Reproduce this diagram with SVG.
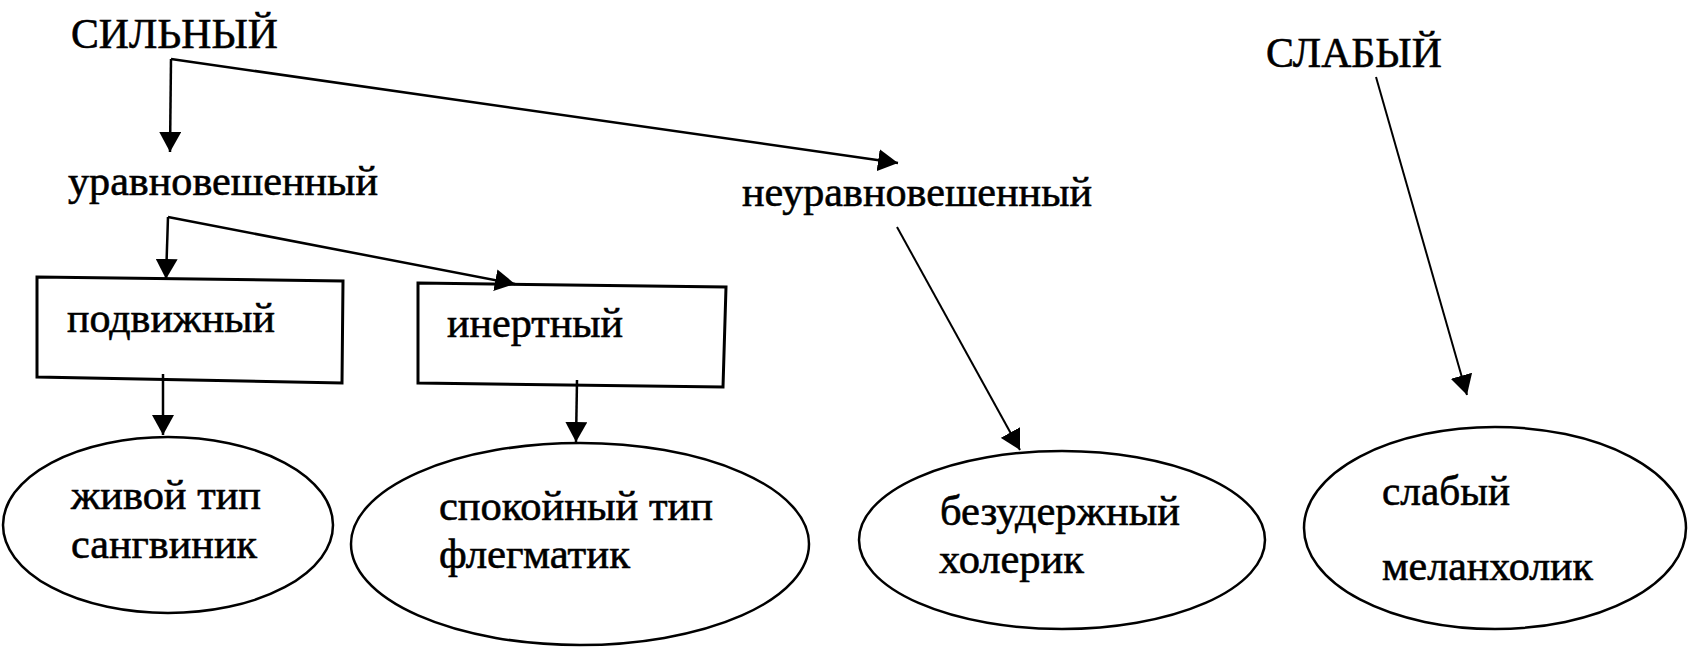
<svg xmlns="http://www.w3.org/2000/svg" width="1699" height="648" viewBox="0 0 1699 648">
<style>
  text { font-family: "Liberation Serif", "DejaVu Serif", "Noto Serif", "Times New Roman", serif; font-size: 43px; fill: #000; stroke: #000; stroke-width: 0.6; }
  .box { fill: none; stroke: #000; stroke-width: 3; }
  .ell { fill: none; stroke: #000; stroke-width: 2.5; }
  .con { fill: none; stroke: #000; stroke-width: 2.5; }
  .thin { stroke-width: 2; }
</style>
<defs>
  <marker id="arr" viewBox="0 0 20 22" markerWidth="20" markerHeight="22" refX="20" refY="11" orient="auto" markerUnits="userSpaceOnUse">
    <path d="M0,0 L20,11 L0,22 z" fill="#000"/>
  </marker>
</defs>
<rect width="1699" height="648" fill="#fff"/>

<g id="strong"><text x="71" y="48" font-family="Liberation Serif, DejaVu Serif, serif" textLength="207" lengthAdjust="spacingAndGlyphs">СИЛЬНЫЙ</text></g>
<g id="weak-top"><text x="1266" y="67" font-family="Liberation Serif, DejaVu Serif, serif" textLength="176" lengthAdjust="spacingAndGlyphs">СЛАБЫЙ</text></g>
<g id="balanced"><text x="68" y="195" font-family="Liberation Serif, DejaVu Serif, serif" textLength="310" lengthAdjust="spacingAndGlyphs">уравновешенный</text></g>
<g id="unbalanced"><text x="742" y="206" font-family="Liberation Serif, DejaVu Serif, serif" textLength="350" lengthAdjust="spacingAndGlyphs">неуравновешенный</text></g>

<g id="mobile">
  <polygon class="box" points="37,277 343,281 342,383 37,377"/>
  <text x="67" y="332" font-family="Liberation Serif, DejaVu Serif, serif" textLength="208" lengthAdjust="spacingAndGlyphs">подвижный</text>
</g>
<g id="inert">
  <polygon class="box" points="418,283 726,287 723,387 418,383"/>
  <text x="447" y="337" font-family="Liberation Serif, DejaVu Serif, serif" textLength="176" lengthAdjust="spacingAndGlyphs">инертный</text>
</g>

<g id="sanguine">
  <ellipse class="ell" cx="168" cy="525" rx="165" ry="88"/>
  <text x="71" y="509" font-family="Liberation Serif, DejaVu Serif, serif" textLength="190" lengthAdjust="spacingAndGlyphs">живой тип</text>
  <text x="71" y="558" font-family="Liberation Serif, DejaVu Serif, serif" textLength="186" lengthAdjust="spacingAndGlyphs">сангвиник</text>
</g>
<g id="phlegmatic">
  <ellipse class="ell" cx="580" cy="544" rx="229" ry="101"/>
  <text x="439" y="520" font-family="Liberation Serif, DejaVu Serif, serif" textLength="274" lengthAdjust="spacingAndGlyphs">спокойный тип</text>
  <text x="439" y="568" font-family="Liberation Serif, DejaVu Serif, serif" textLength="191" lengthAdjust="spacingAndGlyphs">флегматик</text>
</g>
<g id="choleric">
  <ellipse class="ell" cx="1062" cy="540" rx="203" ry="89"/>
  <text x="940" y="525" font-family="Liberation Serif, DejaVu Serif, serif" textLength="240" lengthAdjust="spacingAndGlyphs">безудержный</text>
  <text x="939" y="573" font-family="Liberation Serif, DejaVu Serif, serif" textLength="145" lengthAdjust="spacingAndGlyphs">холерик</text>
</g>
<g id="melancholic">
  <ellipse class="ell" cx="1495" cy="528" rx="191" ry="101"/>
  <text x="1382" y="505" font-family="Liberation Serif, DejaVu Serif, serif" textLength="128" lengthAdjust="spacingAndGlyphs">слабый</text>
  <text x="1382" y="580" font-family="Liberation Serif, DejaVu Serif, serif" textLength="211" lengthAdjust="spacingAndGlyphs">меланхолик</text>
</g>

<g id="connectors">
  <polyline class="con" points="171,59 170,152" marker-end="url(#arr)"/>
  <line class="con" x1="171" y1="59" x2="898" y2="163" marker-end="url(#arr)"/>
  <polyline class="con" points="168,217 166,279" marker-end="url(#arr)"/>
  <line class="con" x1="168" y1="217" x2="515" y2="284" marker-end="url(#arr)"/>
  <line class="con" x1="163" y1="374" x2="163" y2="435" marker-end="url(#arr)"/>
  <line class="con" x1="577" y1="380" x2="576" y2="442" marker-end="url(#arr)"/>
  <line class="con thin" x1="897" y1="227" x2="1020" y2="450" marker-end="url(#arr)"/>
  <line class="con thin" x1="1376" y1="77" x2="1467" y2="395" marker-end="url(#arr)"/>
</g>
</svg>
